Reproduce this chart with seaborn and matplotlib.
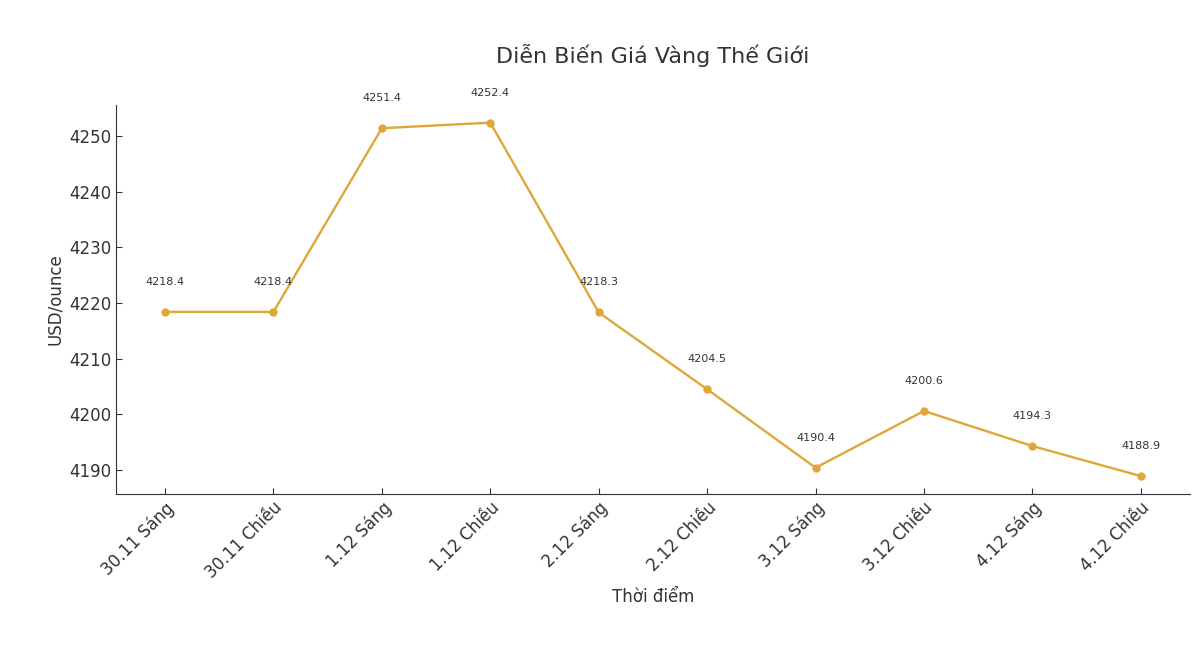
import pandas as pd
import seaborn as sns
import matplotlib.pyplot as plt

# Dữ liệu giá vàng thế giới
thoi_diem = ['30.11 Sáng', '30.11 Chiều', '1.12 Sáng', '1.12 Chiều', '2.12 Sáng',
             '2.12 Chiều', '3.12 Sáng', '3.12 Chiều', '4.12 Sáng', '4.12 Chiều']
gia_vang = [4218.4, 4218.4, 4251.4, 4252.4, 4218.3, 4204.5, 4190.4, 4200.6, 4194.3, 4188.9]

df = pd.DataFrame({'Thời điểm': thoi_diem, 'USD/ounce': gia_vang})
df['idx'] = range(len(df))

sns.set_style('ticks')
plt.rcParams['font.family'] = ['DejaVu Sans']
plt.rcParams['text.color'] = '#333333'
plt.rcParams['axes.labelcolor'] = '#333333'
plt.rcParams['xtick.color'] = '#333333'
plt.rcParams['ytick.color'] = '#333333'
plt.rcParams['axes.edgecolor'] = '#333333'

line_color = '#DFA73A'

fig = plt.figure(figsize=(11.98, 6.48), dpi=100)
ax = fig.add_axes([0.097, 0.238, 0.896, 0.6])

sns.lineplot(data=df, x='idx', y='USD/ounce', ax=ax, color=line_color,
             marker='o', markersize=6, markeredgewidth=0, linewidth=1.7)

for i, v in zip(df['idx'], df['USD/ounce']):
    ax.annotate(f'{v}', (i, v), textcoords='offset points', xytext=(0, 18),
                ha='center', va='bottom', fontsize=8, color='#333333')

ax.set_xticks(df['idx'])
ax.set_xticklabels(thoi_diem, rotation=45, ha='right', rotation_mode='anchor', fontsize=12)
ax.tick_params(axis='y', labelsize=12)
ax.tick_params(direction='in', length=4)
ax.set_title('Diễn Biến Giá Vàng Thế Giới', fontsize=16, pad=30)
ax.set_xlabel('Thời điểm', fontsize=12)
ax.set_ylabel('USD/ounce', fontsize=12)
sns.despine(ax=ax)

fig.savefig('out.png', dpi=100)
